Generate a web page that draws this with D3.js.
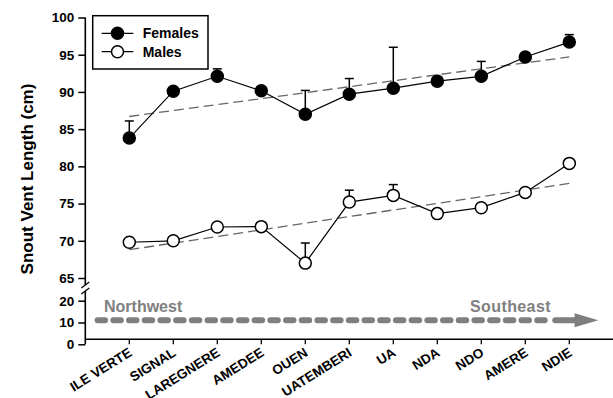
<!DOCTYPE html>
<html>
<head>
<meta charset="utf-8">
<script src="https://cdn.jsdelivr.net/npm/d3@7"></script>
<style>
  body { margin: 0; background: #fff; }
  text { font-family: "Liberation Sans", Arial, sans-serif; font-weight: bold; }
</style>
</head>
<body>
<script>
// Data
var sites = ["ILE VERTE", "SIGNAL", "LAREGNERE", "AMEDEE", "OUEN", "UATEMBERI",
  "UA", "NDA", "NDO", "AMERE", "NDIE"];
var females = [83.8, 90.1, 92.1, 90.15, 87.0, 89.7, 90.5, 91.45, 92.1, 94.7, 96.7];
var femalesErr = [2.3, 0.3, 1.0, 0.3, 3.2, 2.1, 5.5, 0.3, 2.0, 0.3, 1.0];
var males = [69.8, 70.0, 71.85, 71.9, 67.0, 75.2, 76.1, 73.65, 74.45, 76.5, 80.4];
var malesErr = [0.3, 0.3, 0.3, 0.3, 2.7, 1.6, 1.45, 0.3, 0.3, 0.3, 0.3];
var femalesTrend = [86.7, 94.7];
var malesTrend = [68.8, 77.7];
var upperTicks = [65, 70, 75, 80, 85, 90, 95, 100];
var lowerTicks = [0, 10, 20];
var arrowLevel = 11;

var svgWidth = 613;
var svgHeight = 398;

var svg = d3.select("body")
  .append("svg")
  .attr("width", svgWidth)
  .attr("height", svgHeight);

// Scales: x by site index, y split in two segments with a break
var xScale = d3.scaleLinear()
  .domain([-1, 11])
  .range([85.3, 613.3]);

var yTop = d3.scaleLinear()
  .domain([65, 100])
  .range([278, 17.5]);

var yBottom = d3.scaleLinear()
  .domain([0, 20])
  .range([344.3, 300.7]);

var axisX = xScale(-1);

// Y axes
var topAxis = d3.axisLeft(yTop).tickValues(upperTicks).tickSize(7).tickPadding(4);
var bottomAxisY = d3.axisLeft(yBottom).tickValues(lowerTicks).tickSize(7).tickPadding(4);

[topAxis, bottomAxisY].forEach(function(a) {
  var g = svg.append("g")
    .attr("transform", `translate(${axisX}, 0)`)
    .call(a);
  g.select(".domain").remove();
  g.selectAll("line").attr("stroke", "#000").attr("stroke-width", 1.5);
  g.selectAll("text")
    .style("font-size", "13.5px")
    .attr("fill", "#000");
});

// axis lines with the break marks
svg.append("line")
  .attr("x1", axisX).attr("x2", axisX)
  .attr("y1", yTop(100)).attr("y2", 285)
  .attr("stroke", "#000").attr("stroke-width", 1.6);
svg.append("line")
  .attr("x1", axisX).attr("x2", axisX)
  .attr("y1", 291).attr("y2", yBottom(0))
  .attr("stroke", "#000").attr("stroke-width", 1.6);
[285, 291].forEach(function(y) {
  svg.append("line")
    .attr("x1", axisX - 4).attr("y1", y + 3)
    .attr("x2", axisX + 4).attr("y2", y - 3)
    .attr("stroke", "#000").attr("stroke-width", 1.3);
});

// X axis (sits a little above zero)
var xAxisY = yBottom(0) - 5;
svg.append("line")
  .attr("x1", axisX).attr("x2", svgWidth)
  .attr("y1", xAxisY).attr("y2", xAxisY)
  .attr("stroke", "#000").attr("stroke-width", 1.6);

svg.selectAll(".xtick")
  .data(sites)
  .enter()
  .append("line")
  .attr("class", "xtick")
  .attr("x1", (d, i) => xScale(i))
  .attr("x2", (d, i) => xScale(i))
  .attr("y1", xAxisY)
  .attr("y2", xAxisY + 5)
  .attr("stroke", "#000")
  .attr("stroke-width", 1.3);

svg.selectAll(".xlabel")
  .data(sites)
  .enter()
  .append("text")
  .attr("class", "xlabel")
  .attr("text-anchor", "end")
  .attr("transform", (d, i) => `translate(${xScale(i) + 3.5}, 355) rotate(-32)`)
  .style("font-size", "13.5px")
  .text(d => d);

// Direction arrow
var arrowY = yBottom(arrowLevel);
svg.append("line")
  .attr("x1", xScale(-0.72)).attr("x2", xScale(9.55))
  .attr("y1", arrowY).attr("y2", arrowY)
  .attr("stroke", "#7f7f7f")
  .attr("stroke-width", 6)
  .attr("stroke-linecap", "round")
  .attr("stroke-dasharray", "7.5,8.2");
svg.append("line")
  .attr("x1", xScale(9.68)).attr("x2", xScale(10.2))
  .attr("y1", arrowY).attr("y2", arrowY)
  .attr("stroke", "#7f7f7f")
  .attr("stroke-width", 6)
  .attr("stroke-linecap", "round");
svg.append("path")
  .attr("d", `M${xScale(10.12)},${arrowY - 7}L${xScale(10.66)},${arrowY}L${xScale(10.12)},${arrowY + 7}Z`)
  .attr("fill", "#7f7f7f");

svg.append("text")
  .attr("x", 104).attr("y", 312)
  .attr("fill", "#808080")
  .style("font-size", "16px")
  .text("Northwest");
svg.append("text")
  .attr("x", 470).attr("y", 312)
  .attr("fill", "#808080")
  .style("font-size", "16px")
  .style("letter-spacing", "0.4px")
  .text("Southeast");

// Trend lines
[femalesTrend, malesTrend].forEach(function(t) {
  svg.append("line")
    .attr("x1", xScale(0)).attr("x2", xScale(10))
    .attr("y1", yTop(t[0])).attr("y2", yTop(t[1]))
    .attr("stroke", "#666")
    .attr("stroke-width", 1.3)
    .attr("stroke-dasharray", "10,5");
});

// Series: line, error bars, markers
var lineGen = d3.line()
  .x((d, i) => xScale(i))
  .y(d => yTop(d));

function drawSeries(values, errs, fill) {
  svg.append("path")
    .datum(values)
    .attr("d", lineGen)
    .attr("fill", "none")
    .attr("stroke", "#000")
    .attr("stroke-width", 1.2);

  var bars = svg.append("g");
  values.forEach(function(v, i) {
    var x = xScale(i);
    var yTopErr = yTop(v + errs[i]);
    bars.append("line")
      .attr("x1", x).attr("x2", x)
      .attr("y1", yTop(v)).attr("y2", yTopErr)
      .attr("stroke", "#000").attr("stroke-width", 1.5);
    bars.append("line")
      .attr("x1", x - 4.5).attr("x2", x + 4.5)
      .attr("y1", yTopErr).attr("y2", yTopErr)
      .attr("stroke", "#000").attr("stroke-width", 1.5);
  });

  svg.append("g")
    .selectAll("circle")
    .data(values)
    .enter()
    .append("circle")
    .attr("cx", (d, i) => xScale(i))
    .attr("cy", d => yTop(d))
    .attr("r", 6)
    .attr("fill", fill)
    .attr("stroke", "#000")
    .attr("stroke-width", 1.5);
}

drawSeries(females, femalesErr, "#000");
drawSeries(males, malesErr, "#fff");

// Legend
var legend = svg.append("g");
legend.append("rect")
  .attr("x", 92.7).attr("y", 15.7)
  .attr("width", 115.3).attr("height", 53.3)
  .attr("fill", "#fff")
  .attr("stroke", "#000")
  .attr("stroke-width", 1.5);

[["Females", "#000", 33.3], ["Males", "#fff", 51.7]].forEach(function(item) {
  legend.append("line")
    .attr("x1", 101.7).attr("x2", 133.3)
    .attr("y1", item[2]).attr("y2", item[2])
    .attr("stroke", "#000").attr("stroke-width", 1.2);
  legend.append("circle")
    .attr("cx", 117.5).attr("cy", item[2]).attr("r", 6)
    .attr("fill", item[1])
    .attr("stroke", "#000").attr("stroke-width", 1.5);
  legend.append("text")
    .attr("x", 142.7).attr("y", item[2] + 4.8)
    .style("font-size", "14px")
    .text(item[0]);
});

// Y axis title
svg.append("text")
  .attr("transform", "translate(33, 179) rotate(-90)")
  .attr("text-anchor", "middle")
  .style("font-size", "17px")
  .text("Snout Vent Length (cm)");
</script>
</body>
</html>
